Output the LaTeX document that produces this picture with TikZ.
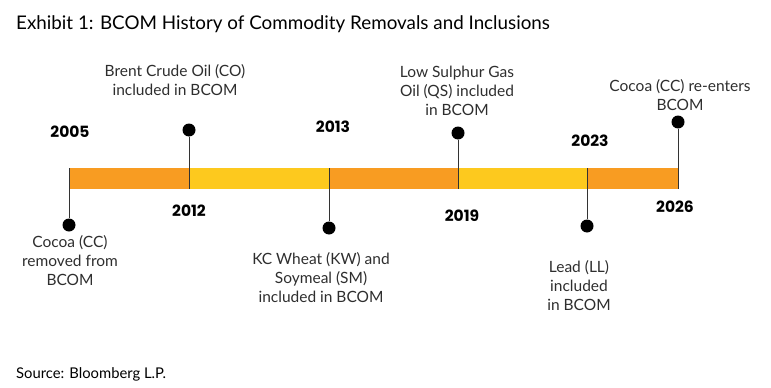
\documentclass[tikz,border=0pt]{standalone}
\usepackage{fontspec}
\setmainfont{Lato}
\newfontfamily\yearfont{Poppins}
\usetikzlibrary{positioning}
\definecolor{barorange}{HTML}{F89C22}
\definecolor{baryellow}{HTML}{FDC91E}
\definecolor{labelgrey}{HTML}{2E2E2E}

\begin{document}
\begin{tikzpicture}[x=1pt, y=-1pt,
  dot/.style={circle, fill=black, inner sep=0pt, minimum size=13pt},
  stem/.style={draw=black!80, line width=0.9pt},
  year/.style={font=\yearfont\bfseries\fontsize{15.5}{15.5}\selectfont},
  event/.style={align=center, inner sep=0pt, text=labelgrey, font=\fontsize{15.5}{19}\selectfont}]
\useasboundingbox (0,0) rectangle (771,388);
\node[anchor=west, inner sep=0pt, font=\fontsize{18.8}{18.8}\selectfont] (title) at (16,24) {Exhibit 1: BCOM History of Commodity Removals and Inclusions};
\node[anchor=west, inner sep=0pt, font=\fontsize{14.8}{14.8}\selectfont] (source) at (16,374) {Source: Bloomberg L.P.};
% timeline bar
\foreach \a/\b/\col in {69/189/barorange, 189/329/baryellow, 329/458/barorange, 458/587/baryellow, 587/678/barorange} {
  \fill[\col] (\a,168) rectangle (\b,189);
}
% dots, stems and years
\foreach \i/\xpos/\ydot/\ybar/\yr/\yrx/\yry in {0/69/225/168/2005/70/132, 1/189/130/189/2012/189/211, 2/329/228/168/2013/333/127, 3/458/133/189/2019/462/216, 4/587/226/168/2023/590/141, 5/678/122/189/2026/675/207} {
  \coordinate (b\i) at (\xpos,\ybar);
  \node[dot] (d\i) at (\xpos,\ydot) {};
  \draw[stem] (d\i) -- (b\i);
  \node[year] (y\i) at (\yrx,\yry) {\yr};
}
% event texts
\foreach \i/\tx/\ty/\txt in {0/70/235/{Cocoa (CC)\\removed from\\BCOM}, 1/175/64/{Brent Crude Oil (CO)\\included in BCOM}, 2/321/252/{KC Wheat (KW) and\\Soymeal (SM)\\included in BCOM}, 3/457/66/{Low Sulphur Gas\\Oil (QS) included\\in BCOM}, 4/579/260/{Lead (LL)\\included\\in BCOM}, 5/680/79/{Cocoa (CC) re-enters\\BCOM}} {
  \node[event, anchor=north] (e\i) at (\tx,\ty) {\txt};
}
\end{tikzpicture}
\end{document}
